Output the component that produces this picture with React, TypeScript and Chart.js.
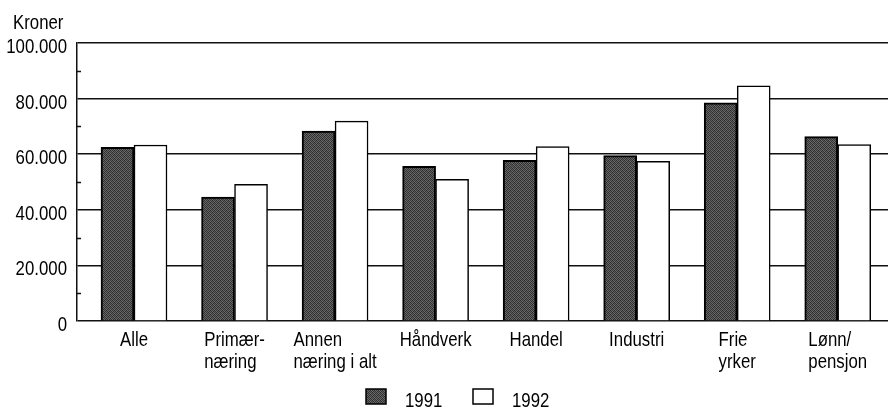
import { useEffect, useRef } from 'react';
import { Chart, registerables } from 'chart.js';

Chart.register(...registerables);

const categories = ['Alle', 'Primær-\nnæring', 'Annen\nnæring i alt', 'Håndverk', 'Handel', 'Industri', 'Frie\nyrker', 'Lønn/\npensjon'];
const seriesNames = ['1991', '1992'];
const values1991 = [62500, 44600, 68300, 55600, 57800, 59500, 78500, 66300];
const values1992 = [63300, 49200, 71900, 51000, 62700, 57400, 84600, 63500];
const yTicks = [0, 20000, 40000, 60000, 80000, 100000];
const yAxisTitle = 'Kroner';

const FONT = '"Liberation Sans", Arial, Helvetica, sans-serif';
const FONT_SIZE = 21;
const NARROW = 0.8; // horizontal squeeze to mimic a condensed Helvetica

function formatKr(v: number): string {
  if (v === 0) return '0';
  return String(v).replace(/\B(?=(\d{3})+(?!\d))/g, '.');
}

function narrowText(ctx: CanvasRenderingContext2D, text: string, x: number, y: number, align: 'left' | 'right' | 'center') {
  const w = ctx.measureText(text).width * NARROW;
  let left = x;
  if (align === 'right') left = x - w;
  else if (align === 'center') left = x - w / 2;
  ctx.save();
  ctx.translate(left, y);
  ctx.scale(NARROW, 1);
  ctx.textAlign = 'left';
  ctx.fillText(text, 0, 0);
  ctx.restore();
}

function makePattern(ctx: CanvasRenderingContext2D): CanvasPattern | string {
  const c = document.createElement('canvas');
  c.width = 4;
  c.height = 4;
  const p = c.getContext('2d');
  if (!p) return '#4a4a4a';
  const shades = [
    ['#2c2c2c', '#6e6e6e', '#3a3a3a', '#5c5c5c'],
    ['#5e5e5e', '#333333', '#707070', '#303030'],
    ['#383838', '#646464', '#2a2a2a', '#6a6a6a'],
    ['#6c6c6c', '#2e2e2e', '#5a5a5a', '#363636'],
  ];
  for (let r = 0; r < 4; r++) {
    for (let col = 0; col < 4; col++) {
      p.fillStyle = shades[r][col];
      p.fillRect(col, r, 1, 1);
    }
  }
  return ctx.createPattern(c, 'repeat') || '#4a4a4a';
}

export default function App() {
  const canvasRef = useRef<HTMLCanvasElement | null>(null);

  useEffect(() => {
    const canvas = canvasRef.current;
    if (!canvas) return;
    const ctx0 = canvas.getContext('2d');
    if (!ctx0) return;
    const pattern = makePattern(ctx0);
    const fills = [pattern, '#ffffff'];

    const customPlugin = {
      id: 'customDecor',
      afterDraw(chart: any) {
        const ctx: CanvasRenderingContext2D = chart.ctx;
        const xs = chart.scales.x;
        const ys = chart.scales.y;
        const area = chart.chartArea;
        ctx.save();
        // minor ticks on the y axis
        ctx.strokeStyle = '#111';
        ctx.lineWidth = 1.5;
        for (let k = 0; k < yTicks.length - 1; k++) {
          const v = (yTicks[k] + yTicks[k + 1]) / 2;
          const py = Math.round(ys.getPixelForValue(v)) + 0.5;
          ctx.beginPath();
          ctx.moveTo(area.left, py);
          ctx.lineTo(area.left + 4, py);
          ctx.stroke();
        }
        ctx.font = `${FONT_SIZE}px ${FONT}`;
        ctx.fillStyle = '#000';
        ctx.textBaseline = 'alphabetic';
        // y tick labels
        yTicks.forEach((v) => {
          narrowText(ctx, formatKr(v), area.left - 10, ys.getPixelForValue(v) + 10, 'right');
        });
        // axis title
        narrowText(ctx, yAxisTitle, 13, 29, 'left');
        // category labels (left-aligned blocks, centred under each group)
        categories.forEach((lab, i) => {
          const lines = lab.split('\n');
          const w = Math.max(...lines.map((l) => ctx.measureText(l).width)) * NARROW;
          const cx = xs.getPixelForValue(i);
          lines.forEach((l, k) => {
            narrowText(ctx, l, cx - w / 2, area.bottom + 25 + k * 22, 'left');
          });
        });
        // legend
        const legendX = [366, 473];
        seriesNames.forEach((name, i) => {
          const bx = legendX[i];
          const by = 389;
          ctx.fillStyle = fills[i] as any;
          ctx.fillRect(bx, by, 20, 15);
          ctx.strokeStyle = '#000';
          ctx.lineWidth = 1.5;
          ctx.strokeRect(bx, by, 20, 15);
          ctx.fillStyle = '#000';
          narrowText(ctx, name, bx + 39, 407, 'left');
        });
        ctx.restore();
      },
    };

    const chart = new Chart(canvas, {
      type: 'bar',
      data: {
        datasets: [
          {
            label: seriesNames[0],
            data: values1991.map((v, i) => ({ x: i, y: v })),
            backgroundColor: pattern as any,
            borderColor: '#000',
            borderWidth: 2,
            barThickness: 33,
          },
          {
            label: seriesNames[1],
            data: values1992.map((v, i) => ({ x: i, y: v })),
            backgroundColor: '#ffffff',
            borderColor: '#000',
            borderWidth: 1.5,
            barThickness: 33,
          },
        ],
      },
      options: {
        animation: false,
        responsive: false,
        devicePixelRatio: 1,
        layout: { padding: { left: 0, right: 0, top: 43, bottom: 88 } },
        plugins: {
          legend: { display: false },
          tooltip: { enabled: false },
          title: { display: false },
        },
        scales: {
          x: {
            type: 'linear',
            display: false,
            offset: false,
            min: -0.567,
            max: 7.5,
            ticks: { stepSize: 1, includeBounds: false },
          },
          y: {
            min: 0,
            max: 100000,
            afterFit: (scale: any) => {
              scale.width = 77;
            },
            afterBuildTicks: (scale: any) => {
              scale.ticks = yTicks.map((v) => ({ value: v }));
            },
            ticks: { display: false },
            grid: { color: '#111', lineWidth: 1.5, drawTicks: false },
            border: { display: true, color: '#111', width: 1.5 },
          },
        },
      },
      plugins: [customPlugin],
    } as any);

    return () => chart.destroy();
  }, []);

  return (
    <div style={{ position: 'fixed', left: 0, top: 0, width: 888, height: 409, background: '#fff' }}>
      <canvas ref={canvasRef} width={888} height={409} />
    </div>
  );
}
